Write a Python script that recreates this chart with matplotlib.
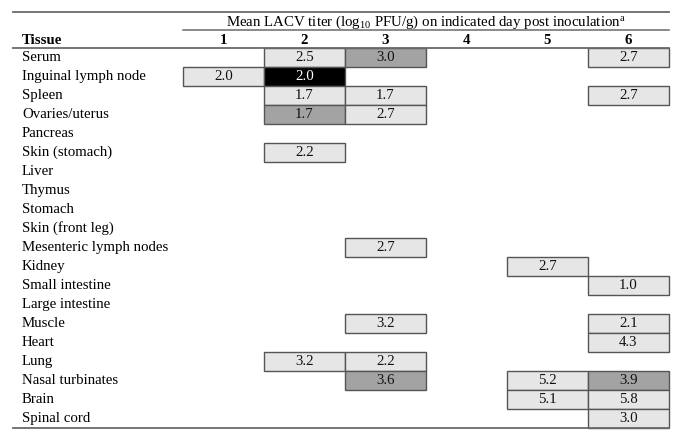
import matplotlib
matplotlib.use("Agg")
import matplotlib.pyplot as plt
from matplotlib.patches import Rectangle

plt.rcParams['font.family'] = ['Liberation Serif', 'DejaVu Serif']
plt.rcParams['mathtext.fontset'] = 'custom'
plt.rcParams['mathtext.rm'] = 'Liberation Serif'
plt.rcParams['mathtext.it'] = 'Liberation Serif:italic'
plt.rcParams['mathtext.bf'] = 'Liberation Serif:bold'

tissues = ["Serum", "Inguinal lymph node", "Spleen", "Ovaries/uterus", "Pancreas",
           "Skin (stomach)", "Liver", "Thymus", "Stomach", "Skin (front leg)",
           "Mesenteric lymph nodes", "Kidney", "Small intestine", "Large intestine",
           "Muscle", "Heart", "Lung", "Nasal turbinates", "Brain", "Spinal cord"]
days = ["1", "2", "3", "4", "5", "6"]

# (tissue index, day, titer, shade) shade: 0 light, 1 medium, 2 black
row_idx = [0, 0, 0, 1, 1, 2, 2, 2, 3, 3, 5, 10, 11, 12, 14, 14, 15, 16, 16, 17, 17, 17, 18, 18, 19]
day_idx = [2, 3, 6, 1, 2, 2, 3, 6, 2, 3, 2, 3, 5, 6, 3, 6, 6, 2, 3, 3, 5, 6, 5, 6, 6]
titers = [2.5, 3.0, 2.7, 2.0, 2.0, 1.7, 1.7, 2.7, 1.7, 2.7, 2.2, 2.7, 2.7, 1.0, 3.2, 2.1, 4.3,
          3.2, 2.2, 3.6, 5.2, 3.9, 5.1, 5.8, 3.0]
shades = [0, 1, 0, 0, 2, 0, 0, 0, 1, 0, 0, 0, 0, 0, 0, 0, 0, 0, 0, 1, 0, 1, 0, 0, 0]

fill_colors = {0: "#e6e6e6", 1: "#a3a3a3", 2: "#000000"}
text_colors = {0: "#111111", 1: "#111111", 2: "#ffffff"}

W, H = 685, 432
fig = plt.figure(figsize=(W / 100, H / 100), dpi=100)
ax = fig.add_axes([0, 0, 1, 1])
ax.set_xlim(0, W)
ax.set_ylim(H, 0)
ax.axis("off")

fs = 10.7
line_col = "#6a6a6a"
left, right = 13, 669
text_left = 22
col0, colw = 183, 81.0
row0, rowh = 48, 19.0

# rules
ax.plot([left, right], [12, 12], color=line_col, lw=1.3)
ax.plot([col0, right], [30, 30], color=line_col, lw=1.1)
ax.plot([left, right], [row0, row0], color=line_col, lw=1.3)
ax.plot([left, right], [row0 + rowh * len(tissues), row0 + rowh * len(tissues)], color=line_col, lw=1.3)

ax.text((col0 + right) / 2, 22,
        r"Mean LACV titer (log$_{10}$ PFU/g) on indicated day post inoculation$^{\mathrm{a}}$",
        ha="center", va="center", fontsize=fs)
ax.text(text_left, 40, "Tissue", ha="left", va="center", fontsize=fs, fontweight="bold")
for j, d in enumerate(days):
    ax.text(col0 + colw * (j + 0.5), 40, d, ha="center", va="center", fontsize=fs, fontweight="bold")

for i, t in enumerate(tissues):
    ax.text(text_left, row0 + rowh * (i + 0.5), t, ha="left", va="center", fontsize=fs)

for r, d, v, s in zip(row_idx, day_idx, titers, shades):
    x = col0 + colw * (d - 1)
    y = row0 + rowh * r
    ax.add_patch(Rectangle((x, y), colw, rowh, facecolor=fill_colors[s],
                           edgecolor="#555555", lw=1.0))
    ax.text(x + colw / 2, y + rowh / 2, f"{v:.1f}", ha="center", va="center",
            fontsize=fs, color=text_colors[s])

fig.savefig("out.png", dpi=100)
